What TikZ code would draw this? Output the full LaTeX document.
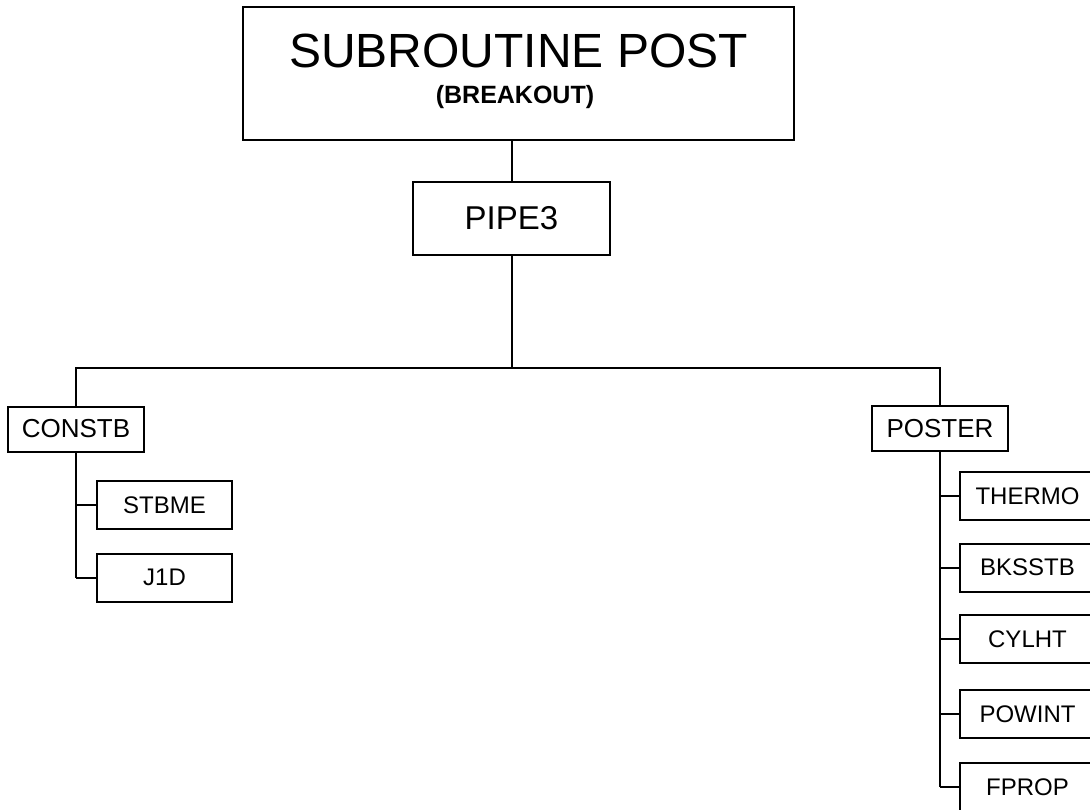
\documentclass[tikz,border=0pt]{standalone}
\usepackage{fontspec}
\setmainfont{Liberation Sans}

\tikzset{
	box/.style={draw, inner sep=0pt, minimum width=135pt, minimum height=48pt, font=\fontsize{24}{24}\selectfont},
	midbox/.style={draw, inner sep=0pt, minimum width=136pt, minimum height=45pt, font=\fontsize{26}{26}\selectfont},
}

\begin{document}
\begin{tikzpicture}[x=1pt, y=-1pt, line width=2pt]
	\useasboundingbox (0,0) rectangle (1090,809);
	\node[draw, inner sep=0pt, minimum width=551pt, minimum height=133pt] (post) at (518.5,73.5) {};
	\node[anchor=base, inner sep=0pt, font=\fontsize{48}{48}\selectfont] (posttitle) at (518.5,67) {SUBROUTINE POST};
	\node[anchor=base, inner sep=0pt, font=\fontsize{25}{25}\selectfont\bfseries] (postsub) at (515,103) {(BREAKOUT)};
	\node[draw, inner sep=0pt, minimum width=197pt, minimum height=73pt, font=\fontsize{33}{33}\selectfont] (pipe) at (511.5,218.5) {PIPE3};
	\node[midbox] (constb) at (76,429) {CONSTB};
	\node[midbox] (poster) at (940,428.5) {POSTER};
	\node[box] (stbme) at (164.5,505) {STBME};
	\node[box] (jone) at (164.5,577.5) {J1D};
	\foreach \name/\y in {THERMO/496, BKSSTB/567.5, CYLHT/639, POWINT/714, FPROP/787} {
		\node[box] (\name) at (1027.5,\y) {\name};
	}
	\coordinate (bus) at (511.5,368);
	\draw (pipe.north |- post.south) -- (pipe.north);
	\draw (pipe.south) -- (bus);
	\draw (constb.north) -- (constb.north |- bus) -- (poster.north |- bus) -- (poster.north);
	\draw (constb.south) -- (constb.south |- jone.west);
	\draw (stbme.west) -- (stbme.west -| constb.south);
	\draw (jone.west) -- (jone.west -| constb.south);
	\draw (poster.south) -- (poster.south |- FPROP.west);
	\foreach \name in {THERMO, BKSSTB, CYLHT, POWINT, FPROP} {
		\draw (\name.west) -- (\name.west -| poster.south);
	}
\end{tikzpicture}
\end{document}
